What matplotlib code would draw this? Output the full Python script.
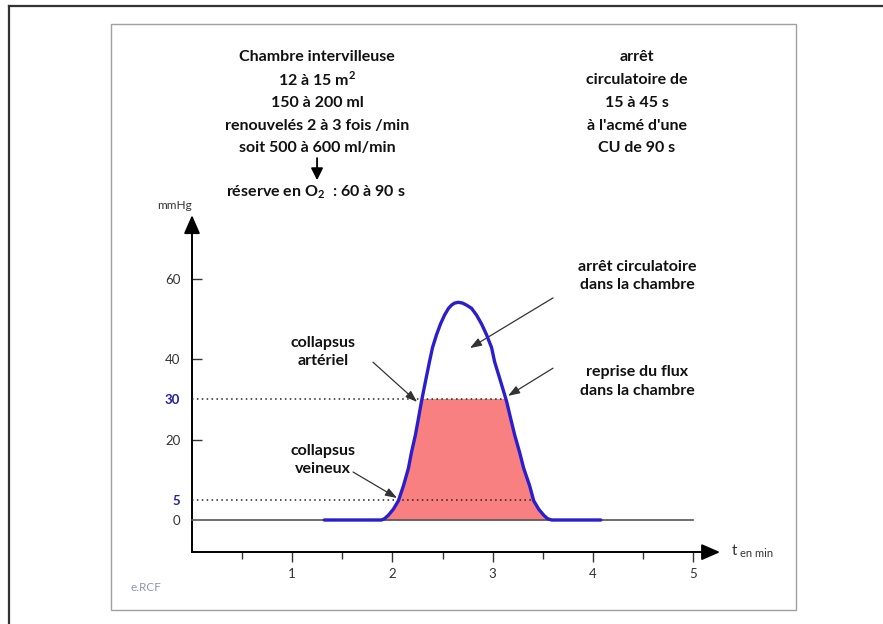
import matplotlib
matplotlib.use('Agg')
import matplotlib.pyplot as plt
from matplotlib.patches import Rectangle
from matplotlib.lines import Line2D

plt.rcParams['font.family'] = ['Lato', 'DejaVu Sans']
plt.rcParams['mathtext.fontset'] = 'custom'
plt.rcParams['mathtext.rm'] = 'Lato'
plt.rcParams['mathtext.bf'] = 'Lato:bold'

t_min = [1.32, 1.89, 1.92, 1.96, 2.01, 2.06, 2.11, 2.16, 2.19, 2.23, 2.26, 2.29,
         2.33, 2.37, 2.40, 2.44, 2.48, 2.52, 2.56, 2.59, 2.62, 2.66, 2.70, 2.74,
         2.79, 2.84, 2.89, 2.94, 2.99, 3.02, 3.08, 3.14, 3.18, 3.22, 3.27, 3.31,
         3.37, 3.41, 3.46, 3.51, 3.55, 3.59, 4.08]
p_mmhg = [0.0, 0.0, 0.3, 1.2, 2.7, 4.8, 8.5, 12.9, 16.8, 21.2, 25.3, 29.5,
          34.5, 39.4, 42.9, 46.1, 48.8, 51.0, 52.7, 53.5, 54.0, 54.2, 54.0, 53.5,
          52.7, 51.0, 48.8, 46.1, 42.9, 39.4, 34.5, 29.5, 25.3, 21.2, 16.8, 12.9,
          8.5, 4.8, 2.7, 1.2, 0.3, 0.0, 0.0]

x_ticks = [1, 2, 3, 4, 5]
x_minor = [0.5, 1.5, 2.5, 3.5, 4.5]
y_ticks = [0, 5, 20, 30, 40, 60]
seuil_art = 30      # collapsus arteriel
seuil_vein = 5      # collapsus veineux
fin_art = 3.14      # reprise du flux
fin_vein = 3.41

txt_chambre = ['Chambre intervilleuse', '12 à 15 m$^{\\mathbf{2}}$', '150 à 200 ml',
               'renouvelés 2 à 3 fois /min', 'soit 500 à 600 ml/min']
txt_reserve = 'réserve en O$_{\\mathbf{2}}$  : 60 à 90 s'
txt_arret = ['arrêt', 'circulatoire de', '15 à 45 s', "à l'acmé d'une", 'CU de 90 s']

# pixel -> donnees : 100.2 px par minute, 4.0167 px par mmHg
W, H = 883, 624
fig = plt.figure(figsize=(W / 100, H / 100), dpi=100)
ax = fig.add_axes([0, 0, 1, 1])
ax.set_xlim(-192 / 100.2, (W - 192) / 100.2)
ax.set_ylim((520 - H) / 4.0167, 520 / 4.0167)

# cadres
fig.add_artist(Rectangle((111 / W, 1 - 610 / H), 685 / W, 586 / H, transform=fig.transFigure,
                         fill=False, edgecolor='#a0a0a0', lw=1.0))
fig.add_artist(Line2D([8.5 / W, 8.5 / W], [0, 1 - 5.7 / H], transform=fig.transFigure,
                      color='#333333', lw=1.6))
fig.add_artist(Line2D([8.5 / W, 1], [1 - 5.7 / H, 1 - 5.7 / H], transform=fig.transFigure,
                      color='#333333', lw=1.6))

# axes
ax.spines['top'].set_visible(False)
ax.spines['right'].set_visible(False)
ax.spines['bottom'].set_position(('data', -8))
ax.spines['bottom'].set_bounds(0, 5.15)
ax.spines['left'].set_position(('data', 0))
ax.spines['left'].set_bounds(-8, 74)
for s in ('bottom', 'left'):
    ax.spines[s].set_linewidth(1.4)
    ax.spines[s].set_color('black')

ax.set_xticks(x_ticks, labels=[str(v) for v in x_ticks])
ax.set_xticks(x_minor, minor=True)
ax.tick_params(axis='x', which='major', direction='out', length=7.5, width=1, color='#333333',
               labelsize=9.5, labelcolor='#333333', pad=4)
ax.tick_params(axis='x', which='minor', direction='out', length=5, width=1, color='#333333')

ax.set_yticks(y_ticks, labels=[str(v) for v in y_ticks])
ax.tick_params(axis='y', direction='in', length=7.5, width=1, color='#333333',
               labelsize=9.5, labelcolor='#333333', pad=8.5)
for tick, v in zip(ax.yaxis.get_major_ticks(), y_ticks):
    if v in (0, seuil_vein, seuil_art):
        tick.tick1line.set_visible(False)
for lbl, v in zip(ax.get_yticklabels(), y_ticks):
    if v in (seuil_vein, seuil_art):
        lbl.set_color('#1f1fa8')
        lbl.set_fontweight('bold')

arr = dict(arrowstyle='-|>,head_length=0.8,head_width=0.35', color='black', lw=1.4,
           shrinkA=0, shrinkB=0, mutation_scale=14)
ax.annotate('', xy=(5.27, -8), xytext=(5.1, -8), arrowprops=arr)
ax.annotate('', xy=(0, 75.9), xytext=(0, 72), arrowprops=arr)
ax.text(-0.17, 78.2, 'mmHg', fontsize=8.5, color='#333333', ha='center', va='center')
ax.text(5.39, -7.6, 't', fontsize=11, color='#333333', ha='left', va='center')
ax.text(5.47, -8.3, 'en min', fontsize=8, color='#333333', ha='left', va='center')

# ligne zero, pointilles
ax.plot([0, 5], [0, 0], color='#555555', lw=1.2, zorder=3)
ax.plot([0, fin_art], [seuil_art, seuil_art], ls=(0, (1, 2.2)), color='#222222', lw=1.1, zorder=4)
ax.plot([0, fin_vein], [seuil_vein, seuil_vein], ls=(0, (1, 2.2)), color='#222222', lw=1.1, zorder=4)

# zone remplie jusqu'a 30 mmHg
zone = ax.fill_between(t_min, 0, p_mmhg, color='#f88080', lw=0, zorder=2)
zone.set_clip_path(Rectangle((0, 0), 10, seuil_art, transform=ax.transData))

ax.plot(t_min, p_mmhg, color='#2a1ecf', lw=2.4, solid_capstyle='round',
        solid_joinstyle='round', zorder=5)

# textes
bold = dict(fontsize=11.5, fontweight='bold', color='#111111', ha='center', va='center')
for i, s in enumerate(txt_chambre):
    ax.text(1.248, 115.3 - i * 5.7, s, **bold)
ax.annotate('', xy=(1.248, 84.6), xytext=(1.248, 90.1),
            arrowprops=dict(arrowstyle='-|>,head_length=0.6,head_width=0.3', color='black',
                            lw=1.3, shrinkA=0, shrinkB=0, mutation_scale=12))
ax.text(1.24, 81.7, txt_reserve, **bold)
for i, s in enumerate(txt_arret):
    ax.text(4.441, 115.3 - i * 5.7, s, **bold)

ax.text(1.307, 41.9, 'collapsus\nartériel', linespacing=1.4, **bold)
ax.text(1.307, 14.9, 'collapsus\nveineux', linespacing=1.4, **bold)
ax.text(4.441, 60.8, 'arrêt circulatoire\ndans la chambre', linespacing=1.4, **bold)
ax.text(4.441, 34.5, 'reprise du flux\ndans la chambre', linespacing=1.4, **bold)

fl = dict(arrowstyle='-|>,head_length=0.7,head_width=0.25', color='#333333', lw=0.9,
          shrinkA=0, shrinkB=0, mutation_scale=10)
ax.annotate('', xy=(2.246, 29.4), xytext=(1.806, 39.3), arrowprops=fl)
ax.annotate('', xy=(2.046, 5.48), xytext=(1.607, 11.95), arrowprops=fl)
ax.annotate('', xy=(2.774, 42.8), xytext=(3.603, 55.3), arrowprops=fl)
ax.annotate('', xy=(3.154, 30.9), xytext=(3.603, 37.8), arrowprops=fl)

ax.text(-0.459, -16.7, 'e.RCF', fontsize=8.5, color='#8a94b8', ha='center', va='center')

fig.savefig('out.png', dpi=100)
